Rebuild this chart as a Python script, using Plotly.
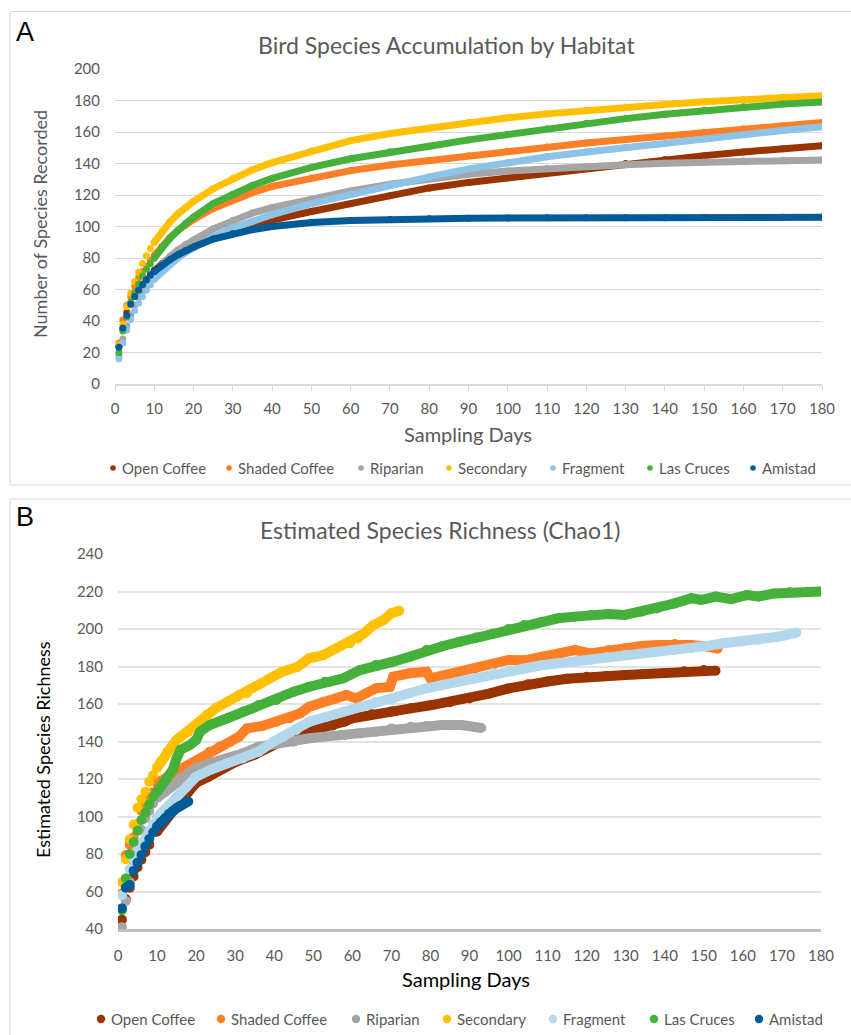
import plotly.graph_objects as go

W, H = 851, 1035

SERIES = ["Open Coffee", "Shaded Coffee", "Riparian", "Secondary", "Fragment", "Las Cruces", "Amistad"]
COLORS_A = ["#993300", "#FF7F27", "#A5A5A5", "#FFC000", "#8EC3E8", "#45B03A", "#005B96"]
COLORS_B = ["#993300", "#FF7F27", "#A5A5A5", "#FFC000", "#B3D8EE", "#45B03A", "#005B96"]

# ---------------- Panel A: species accumulation ----------------
DAYS_A = [1, 2, 3, 4, 5, 6, 7, 8, 9, 10, 12, 14, 16, 18, 20, 25, 30, 35, 40, 50,
          60, 70, 80, 90, 100, 110, 120, 130, 140, 150, 160, 170, 180]
open_coffee_a = [24, 35, 45.5, 51, 56, 60, 63.5, 66.5, 69.5, 72, 76.5, 80.5, 84, 86.5, 88.5, 93, 97, 101, 104, 109.5,
                 114.5, 119.5, 124.5, 128, 131, 134, 137, 140, 142.5, 145, 147.3, 149.4, 151.3]
shaded_coffee_a = [26, 40.6, 50, 55.5, 62, 67.5, 71.5, 75, 78.5, 81.5, 87.5, 93, 97.5, 101, 104.5, 111.5, 117, 121.5, 125.5, 131,
                   135.5, 139, 142, 145, 147.8, 150.5, 153, 155.3, 157.5, 159.8, 162, 164, 166]
riparian_a = [18, 28.6, 37, 44, 50, 55, 59, 63, 66.5, 70, 76, 81, 85, 88.5, 91.5, 98.5, 104, 108.5, 112, 117.5,
              122.5, 126.8, 130.5, 133.2, 135.2, 136.8, 138, 139.2, 140.2, 141, 141.6, 142, 142.3]
secondary_a = [25, 38, 49, 57.6, 65, 71, 76.5, 81.5, 86, 90, 97, 103, 108, 112, 116, 124, 130.5, 136, 140.5, 148,
               154.5, 159, 162.5, 166, 169, 171.5, 173.8, 175.8, 177.5, 179.2, 180.7, 182, 183]
fragment_a = [16, 26, 34.3, 41, 46.6, 51.2, 55.5, 59.5, 63, 66.5, 71.5, 76, 80, 83.5, 86.5, 93.5, 99, 103.5, 107.5, 114.5,
              120.5, 126.5, 131.5, 136.5, 140.5, 144.3, 147.3, 150.2, 153, 155.7, 158.3, 161, 163.4]
las_cruces_a = [20, 33.6, 42.5, 52, 58, 63.5, 68.6, 72.8, 76.4, 80, 87, 92.5, 97.5, 102, 106, 114.5, 120.5, 126, 130.5, 137.5,
                143, 147.5, 151, 155, 158.5, 162, 165.5, 168.5, 171.3, 173.8, 176, 177.7, 179]
amistad_a = [23.3, 35.5, 43.6, 50.6, 55.5, 59.5, 63, 66, 69, 71.5, 75.5, 79, 82, 84.7, 87, 92, 95.5, 98, 100, 102.5,
             103.8, 104.5, 105, 105.3, 105.4, 105.5, 105.5, 105.6, 105.6, 105.7, 105.7, 105.8, 105.8]
VALUES_A = [open_coffee_a, shaded_coffee_a, riparian_a, secondary_a, fragment_a, las_cruces_a, amistad_a]

# ---------------- Panel B: Chao1 estimated richness ----------------
open_coffee_b_days = [1, 2, 3, 4, 5, 6, 7, 8, 10, 12, 14, 16, 18, 20, 23, 26, 30, 35, 40, 45, 50, 55, 58, 60, 65, 70,
                      75, 80, 85, 90, 95, 100, 105, 110, 115, 120, 125, 130, 135, 140, 145, 150, 153]
open_coffee_b = [45, 56, 62, 68, 73, 77, 81, 85, 92, 98, 103, 108, 113, 118, 121, 125, 129, 133, 139, 143.5, 146,
                 148.5, 150.6, 152.4, 154.5, 156, 157.7, 159.3, 161, 163, 165.5, 168.3, 170.5, 172, 173.5, 174.5, 175,
                 175.5, 176, 176.6, 177.5, 178.1, 177.8]
shaded_coffee_b_days = [1, 2, 3, 4, 5, 6, 7, 8, 9, 10, 13, 15.5, 18, 20.5, 23.5, 26, 28.7, 31, 33, 37, 40.6, 44, 46.6, 49,
                        52.6, 56, 58.5, 61, 63.6, 66, 69.6, 70.5, 74.7, 79, 80, 83, 87, 91.4, 96, 100, 104, 108.5,
                        112.7, 117, 121, 125.6, 129.8, 134, 138, 142.6, 146.8, 151, 153.5]
shaded_coffee_b = [59, 79.5, 85, 89, 96, 103, 107, 110, 113, 117.7, 122.1, 124.8, 127.5, 130.1, 134.6, 137.2, 139.9, 142.6,
                   147, 148.3, 150.6, 152.4, 155, 158.6, 161.2, 163, 164.8, 163, 165.7, 168.4, 169.2, 174.6, 176.4,
                   177.2, 173.7, 175, 177, 179, 180.8, 183.5, 183.3, 185.2, 186.1, 188.8, 187, 188.8, 189.7, 190.9,
                   191.5, 192, 191.5, 190.6, 189.5]
riparian_b_days = [1, 2, 3, 4, 5, 6, 7, 8, 9, 10, 12, 14, 16, 18, 20, 24, 28, 32, 36, 40, 45, 49, 53, 58, 62, 66, 70, 75,
                   79, 83, 88, 93]
riparian_b = [41, 55, 65, 76, 86, 93, 99, 103, 107, 110, 113, 117, 120.5, 123.5, 125.7, 128.7, 131, 133.7, 137.2, 139,
              139.9, 141.7, 142.6, 143.5, 144.3, 145.2, 147, 147.9, 148.3, 148.8, 148.8, 147.2]
secondary_b_days = [1, 2, 3, 4, 5, 6, 7, 8, 9, 10, 11, 12.6, 14, 15, 16, 18, 20, 22.7, 25, 28, 31, 33, 36, 39, 42, 46,
                    49, 52.6, 56, 59.4, 61.5, 63, 65.4, 68, 70, 72]
secondary_b = [65, 77.2, 87.8, 95.7, 104.7, 109.2, 113.2, 118.5, 122, 126, 129.5, 134.5, 138.1, 140.8, 142.5, 145.2,
               148.8, 154.1, 157.7, 161.2, 164.8, 165.7, 170.1, 173.7, 177.2, 179.9, 184.4, 186.1, 189.7, 192.4, 195,
               197.7, 202.1, 204.8, 208.4, 209.7]
fragment_b_days = [1, 2, 3, 4, 5, 6, 7, 8, 9, 10, 13, 15, 17.6, 20, 23.5, 27.8, 32, 36, 39.8, 42.3, 45.7, 49, 53.4, 57.7,
                   62, 66, 70.5, 74.7, 79, 83, 87.5, 91.8, 96, 100, 104, 108, 112.7, 117, 121, 125, 129.8, 134, 138,
                   142, 146.8, 151, 155, 160, 164, 169, 173.7]
fragment_b = [58, 67, 72, 77, 82, 86, 89, 92.5, 96, 99.5, 106.1, 110.6, 115.9, 121.2, 124.8, 128.4, 131, 134.6, 139.9,
              142.6, 146.1, 150.6, 153.2, 155.9, 158.6, 161.2, 163, 165.7, 168.4, 170.1, 172, 173.8, 176.5, 177.5,
              179, 180.5, 181.7, 182.6, 183.5, 184.8, 186.1, 187, 187.9, 188.8, 189.7, 191, 192.4, 193.3, 194.1,
              195.9, 198]
las_cruces_b_days = [1, 2, 3, 4, 5, 6, 7, 8, 9, 10, 11, 12.5, 14, 15, 16, 18.4, 20, 21, 23.5, 28, 32, 36, 40.6, 45, 49,
                     53, 57.7, 62, 66, 70.5, 74.7, 79, 83, 87.5, 91.8, 96, 100, 104, 108.5, 112.7, 117, 121, 125.6,
                     129.8, 134, 138, 142.6, 146.8, 149.4, 153, 157, 161, 164, 168, 172, 176.7, 180]
las_cruces_b = [50, 67, 80, 86.4, 92.4, 98.1, 102, 106.3, 110.5, 113, 116, 120.4, 124.8, 131, 135.5, 138.1, 140.8, 145.2,
                148.8, 152.4, 155.9, 159.5, 162.1, 166.6, 169.2, 171.9, 173.7, 178.1, 180.8, 182.6, 185.2, 188.8,
                190.8, 193.2, 195.5, 197.5, 200, 202.1, 203.9, 205.7, 206.6, 207.5, 208, 207.5, 209.2, 211, 213.7,
                216.4, 215.5, 217.3, 215.9, 218.1, 217.3, 219, 219.6, 219.9, 220]
amistad_b_days = [1, 2, 3, 4, 5, 6, 7, 8, 9, 10, 11, 12, 13, 14, 15, 16, 17, 18]
amistad_b = [51, 62, 63.5, 71, 75.4, 79.5, 84, 88, 91.5, 94.5, 97, 99, 101.3, 102.8, 104.4, 105.8, 107, 108]

DAYS_B = [open_coffee_b_days, shaded_coffee_b_days, riparian_b_days, secondary_b_days,
          fragment_b_days, las_cruces_b_days, amistad_b_days]
VALUES_B = [open_coffee_b, shaded_coffee_b, riparian_b, secondary_b, fragment_b, las_cruces_b, amistad_b]

X_TICKS = list(range(0, 181, 10))
Y_TICKS_A = list(range(0, 201, 20))
Y_TICKS_B = list(range(40, 241, 20))

FONT = "Lato"
GREY_TXT = "#595959"
GRID = "#d9d9d9"

# legend layout (pixel positions of marker centres in each panel's legend row)
LEG_A_DOT_X = [113, 229, 361, 449, 553, 650, 753]
LEG_B_DOT_X = [101, 221, 356, 447, 553, 654, 759]

fig = go.Figure()


def add_series(days, vals, name, color, xa, ya, size, split=10):
    early_x = [d for d in days if d <= split]
    early_y = [v for d, v in zip(days, vals) if d <= split]
    late_x = [d for d in days if d >= split]
    late_y = [v for d, v in zip(days, vals) if d >= split]
    fig.add_trace(go.Scatter(x=late_x, y=late_y, mode="lines+markers", name=name, xaxis=xa, yaxis=ya,
                             line=dict(color=color, width=size), marker=dict(color=color, size=size),
                             showlegend=False, hoverinfo="skip"))
    fig.add_trace(go.Scatter(x=early_x, y=early_y, mode="markers", name=name, xaxis=xa, yaxis=ya,
                             marker=dict(color=color, size=size), showlegend=False))


for name, col, vals in zip(SERIES, COLORS_A, VALUES_A):
    add_series(DAYS_A, vals, name, col, "x", "y", 7)
for name, col, days, vals in zip(SERIES, COLORS_B, DAYS_B, VALUES_B):
    add_series(days, vals, name, col, "x2", "y2", 10)


def px(x):
    return x / W


def py(y):
    return 1 - y / H


axis_common = dict(automargin=False, tickfont=dict(family=FONT, size=15, color=GREY_TXT), zeroline=False,
                   fixedrange=True)

fig.update_layout(
    width=W, height=H, margin=dict(l=0, r=0, t=0, b=0),
    paper_bgcolor="white", plot_bgcolor="white",
    font=dict(family=FONT, color=GREY_TXT),
    showlegend=False,
    xaxis=dict(domain=[px(115), px(822)], range=[0, 180], tickvals=X_TICKS, anchor="y",
               showgrid=False, showline=True, linecolor=GRID, linewidth=1.5,
               ticks="outside", ticklen=5, tickcolor=GRID, ticklabelstandoff=5, **axis_common),
    yaxis=dict(domain=[py(384), py(69)], range=[0, 200], tickvals=Y_TICKS_A, anchor="x",
               showgrid=True, gridcolor=GRID, gridwidth=1, showline=False, ticks="",
               ticklabelstandoff=14, **axis_common),
    xaxis2=dict(domain=[px(118), px(821)], range=[0, 180], tickvals=X_TICKS, anchor="y2",
                showgrid=False, showline=True, linecolor="#bfbfbf", linewidth=2.5,
                ticks="", ticklabelstandoff=11, **axis_common),
    yaxis2=dict(domain=[py(929), py(554)], range=[40, 240], tickvals=Y_TICKS_B, anchor="x2",
                showgrid=True, gridcolor="#e3e3e3", gridwidth=1.5, showline=False, ticks="",
                ticklabelstandoff=14, **axis_common),
)

# panel borders
fig.add_shape(type="rect", xref="paper", yref="paper", x0=px(10), x1=px(860), y0=py(485), y1=py(11.5),
              line=dict(color=GRID, width=1), layer="below")
fig.add_shape(type="rect", xref="paper", yref="paper", x0=px(10), x1=px(860), y0=py(1045), y1=py(499),
              line=dict(color=GRID, width=1), layer="below")


def ann(text, x, y, size, color=GREY_TXT, angle=0, family=FONT, xanchor="center"):
    fig.add_annotation(text=text, x=px(x), y=py(y), xref="paper", yref="paper", showarrow=False,
                       xanchor=xanchor, yanchor="middle", textangle=angle,
                       font=dict(family=family, size=size, color=color))


ann("A", 25, 32, 27, color="#000000", family="Liberation Sans")
ann("B", 25, 517, 27, color="#000000", family="Liberation Sans")
ann("Bird Species Accumulation by Habitat", 447, 45, 23)
ann("Estimated Species Richness (Chao1)", 440, 530, 23)
ann("Number of Species Recorded", 40, 224, 18, angle=-90)
ann("Sampling Days", 468, 434, 20)
ann("Estimated Species Richness", 43, 750, 18, color="#000000", angle=-90)
ann("Sampling Days", 466, 979, 20, color="#000000")


# legends (one row under each panel)
def legend_row(dot_xs, colors, cy, r):
    for name, col, dx in zip(SERIES, colors, dot_xs):
        fig.add_shape(type="circle", xref="paper", yref="paper",
                      x0=px(dx - r), x1=px(dx + r), y0=py(cy + r), y1=py(cy - r),
                      fillcolor=col, line=dict(width=0))
        ann(name, dx + r + 4, cy, 15, xanchor="left")


legend_row(LEG_A_DOT_X, COLORS_A, 468, 2.8)
legend_row(LEG_B_DOT_X, COLORS_B, 1019, 4.2)

fig.write_html("out.html")
